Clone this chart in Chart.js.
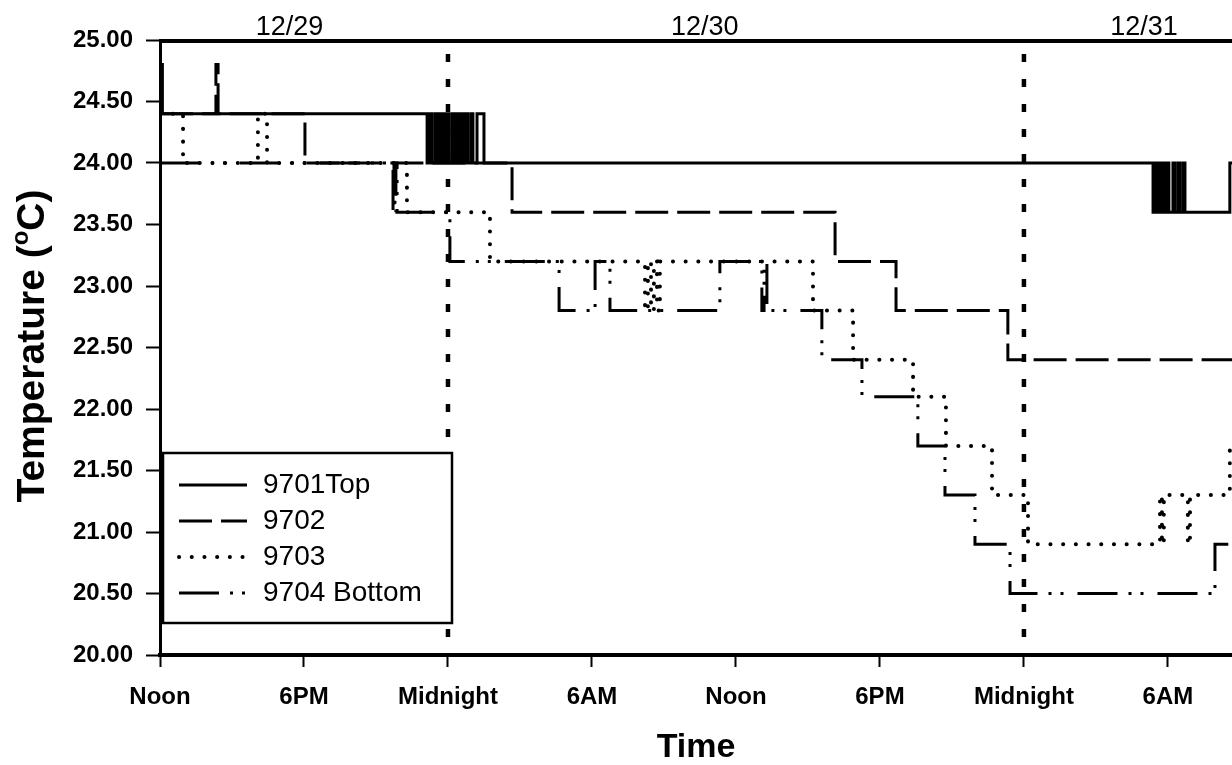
<!DOCTYPE html>
<html><head><meta charset="utf-8">
<script src="https://cdn.jsdelivr.net/npm/chart.js@4.4.0/dist/chart.umd.min.js"></script>
<style>html,body{margin:0;padding:0;background:#fff}#wrap{width:1232px;height:765px;position:relative}canvas{display:block}</style>
</head><body><div id="wrap"><canvas id="c" width="1232" height="765" style="width:1232px;height:765px"></canvas></div>
<script>
// ---- data (hours after noon 12/29, temperature °C) ----
const seriesNames = ['9701Top', '9702', '9703', '9704 Bottom'];
const xTickHours = [0, 6, 12, 18, 24, 30, 36, 42];
const xTickLabels = ['Noon', '6PM', 'Midnight', '6AM', 'Noon', '6PM', 'Midnight', '6AM'];
const yTickValues = [20, 20.5, 21, 21.5, 22, 22.5, 23, 23.5, 24, 24.5, 25];
const yTickLabels = ['20.00', '20.50', '21.00', '21.50', '22.00', '22.50', '23.00', '23.50', '24.00', '24.50', '25.00'];
const dayLabels = ['12/29', '12/30', '12/31'];
const dayLabelHours = [5.4, 22.7, 41.0];
const midnightHours = [12, 36];

const t9701Hours = [0, 0.1, 11.13, 11.21, 11.33, 11.46, 11.54, 11.63, 11.71, 11.79, 11.88, 11.96, 12.04, 12.17, 12.25, 12.33, 12.42, 12.54, 12.63, 12.75, 12.83, 12.96, 13.04, 13.21, 13.50,
  41.38, 41.46, 41.54, 41.63, 41.71, 41.79, 41.88, 41.96, 42.04, 42.21, 42.29, 42.42, 42.50, 42.63, 42.71, 44.58, 44.7];
const t9701Temps = [24.8, 24.4, 24.0, 24.4, 24.0, 24.4, 24.0, 24.4, 24.0, 24.4, 24.0, 24.4, 24.0, 24.4, 24.0, 24.4, 24.0, 24.4, 24.0, 24.4, 24.0, 24.4, 24.0, 24.4, 24.0,
  23.6, 24.0, 23.6, 24.0, 23.6, 24.0, 23.6, 24.0, 23.6, 24.0, 23.6, 24.0, 23.6, 24.0, 23.6, 24.0, 24.0];

const t9702Hours = [0, 2.33, 2.42, 6.04, 14.67, 28.13, 30.67, 35.33, 44.7];
const t9702Temps = [24.4, 24.8, 24.4, 24.0, 23.6, 23.2, 22.8, 22.4, 22.4];

const t9703Hours = [0, 0.96, 4.08, 4.46, 10.29, 13.75, 20.21, 20.33, 20.46, 20.58, 20.71, 20.83, 27.21, 28.88, 31.38, 32.75, 34.67, 36.17, 41.67, 41.75, 41.83, 42.83, 42.92, 44.58, 44.7];
const t9703Temps = [24.4, 24.0, 24.4, 24.0, 23.6, 23.2, 22.8, 23.2, 22.8, 23.2, 22.8, 23.2, 22.8, 22.4, 22.1, 21.7, 21.3, 20.9, 21.3, 20.9, 21.3, 20.9, 21.3, 21.7, 21.7];

const t9704Hours = [0, 9.71, 9.75, 9.79, 9.83, 9.88, 12.08, 16.63, 18.13, 18.75, 23.33, 25.08, 25.17, 25.29, 27.58, 29.25, 31.58, 32.71, 33.96, 35.42, 43.96, 44.7];
const t9704Temps = [24.0, 23.6, 24.0, 23.6, 24.0, 23.6, 23.2, 22.8, 23.2, 22.8, 23.2, 22.8, 23.2, 22.8, 22.4, 22.1, 21.7, 21.3, 20.9, 20.5, 20.9, 20.9];

// ---- build ----
function pts(hs, vs) { return hs.map((h, i) => ({ x: h, y: vs[i] })); }
const styles = [
  { borderDash: [], borderWidth: 3, borderCapStyle: 'butt' },
  { borderDash: [33, 9], borderWidth: 3, borderCapStyle: 'butt' },
  { borderDash: [0.1, 12.6], borderWidth: 4, borderCapStyle: 'round' },
  { borderDash: [40, 11, 3, 9, 3, 14], borderWidth: 3, borderCapStyle: 'butt' }
];
const seriesData = [pts(t9701Hours, t9701Temps), pts(t9702Hours, t9702Temps), pts(t9703Hours, t9703Temps), pts(t9704Hours, t9704Temps)];
const FONT = '"Liberation Sans", Arial, sans-serif';

const decor = {
  id: 'decor',
  beforeDatasetsDraw(chart) {
    const { ctx, chartArea: a, scales: { x } } = chart;
    ctx.save();
    ctx.strokeStyle = '#000'; ctx.lineWidth = 4.5; ctx.setLineDash([8, 17]); ctx.lineCap = 'butt';
    midnightHours.forEach(h => {
      const px = x.getPixelForValue(h);
      ctx.beginPath(); ctx.moveTo(px, a.top + 14); ctx.lineTo(px, a.bottom); ctx.stroke();
    });
    ctx.restore();
  },
  afterDraw(chart) {
    const { ctx, chartArea: a, scales: { x } } = chart;
    ctx.save();
    ctx.strokeStyle = '#000'; ctx.lineWidth = 4; ctx.setLineDash([]);
    ctx.beginPath(); ctx.moveTo(a.left - 1, a.top + 1); ctx.lineTo(a.right, a.top + 1); ctx.stroke();
    ctx.fillStyle = '#000'; ctx.font = '27px ' + FONT; ctx.textAlign = 'center'; ctx.textBaseline = 'alphabetic';
    dayLabels.forEach((t, i) => ctx.fillText(t, x.getPixelForValue(dayLabelHours[i]), a.top - 5));
    ctx.translate(33, 346); ctx.rotate(-Math.PI / 2);
    const big = 'bold 39px ' + FONT, small = 'bold 24px ' + FONT;
    const p1 = 'Temperature (', p2 = 'o', p3 = 'C)';
    ctx.font = big; const w1 = ctx.measureText(p1).width, w3 = ctx.measureText(p3).width;
    ctx.font = small; const w2 = ctx.measureText(p2).width;
    let sx = -(w1 + w2 + w3) / 2;
    ctx.textAlign = 'left'; ctx.textBaseline = 'middle';
    ctx.font = big; ctx.fillText(p1, sx, 0); sx += w1;
    ctx.font = small; ctx.fillText(p2, sx, -12); sx += w2;
    ctx.font = big; ctx.fillText(p3, sx, 0);
    ctx.restore();

    ctx.save();
    const L = a.left + 3, T = 453, R = 452, B = 623;
    ctx.fillStyle = '#fff'; ctx.fillRect(L, T, R - L, B - T);
    ctx.strokeStyle = '#000'; ctx.lineWidth = 2.5; ctx.setLineDash([]);
    ctx.strokeRect(L, T, R - L, B - T);
    ctx.font = '28px ' + FONT; ctx.fillStyle = '#000'; ctx.textBaseline = 'middle'; ctx.textAlign = 'left';
    chart.data.datasets.forEach((ds, i) => {
      const yy = 485 + i * 36;
      ctx.save();
      ctx.strokeStyle = '#000'; ctx.lineWidth = ds.borderWidth; ctx.lineCap = ds.borderCapStyle;
      ctx.setLineDash(ds.borderDash);
      ctx.beginPath(); ctx.moveTo(179, yy); ctx.lineTo(247, yy); ctx.stroke();
      ctx.restore();
      ctx.fillText(ds.label, 263, yy);
    });
    ctx.restore();
  }
};

new Chart(document.getElementById('c'), {
  type: 'line',
  data: {
    datasets: seriesNames.map((n, i) => Object.assign({
      label: n, data: seriesData[i], borderColor: '#000', backgroundColor: '#000',
      stepped: true, pointRadius: 0, fill: false, tension: 0, borderJoinStyle: 'miter'
    }, styles[i]))
  },
  options: {
    responsive: false, animation: false, devicePixelRatio: 1,
    layout: { padding: { top: 40, right: 0, left: 0, bottom: 0 } },
    plugins: { legend: { display: false }, tooltip: { enabled: false } },
    scales: {
      x: {
        type: 'linear', min: 0, max: 44.67,
        afterBuildTicks: s => { s.ticks = xTickHours.map(v => ({ value: v })); },
        afterFit: s => { s.height = 110; },
        ticks: { color: '#000', font: { family: FONT, size: 24, weight: 'bold' }, padding: 16, maxRotation: 0, autoSkip: false,
          callback: v => xTickLabels[xTickHours.indexOf(v)] },
        grid: { drawOnChartArea: false, drawTicks: true, tickLength: 12, tickWidth: 2, tickColor: '#000', color: '#000' },
        border: { display: true, color: '#000', width: 4 },
        title: { display: true, text: 'Time', color: '#000', font: { family: FONT, size: 34, weight: 'bold', lineHeight: 1.0 }, padding: { top: 0, bottom: 0 } }
      },
      y: {
        min: 20, max: 25,
        afterBuildTicks: s => { s.ticks = yTickValues.map(v => ({ value: v })); },
        afterFit: s => { s.width = 160; },
        ticks: { color: '#000', font: { family: FONT, size: 24, weight: 'bold' }, padding: 13,
          callback: v => yTickLabels[yTickValues.indexOf(v)] },
        grid: { drawOnChartArea: false, drawTicks: true, tickLength: 14, tickWidth: 2, tickColor: '#000', color: '#000' },
        border: { display: true, color: '#000', width: 3 }
      }
    }
  },
  plugins: [decor]
});
</script></body></html>
